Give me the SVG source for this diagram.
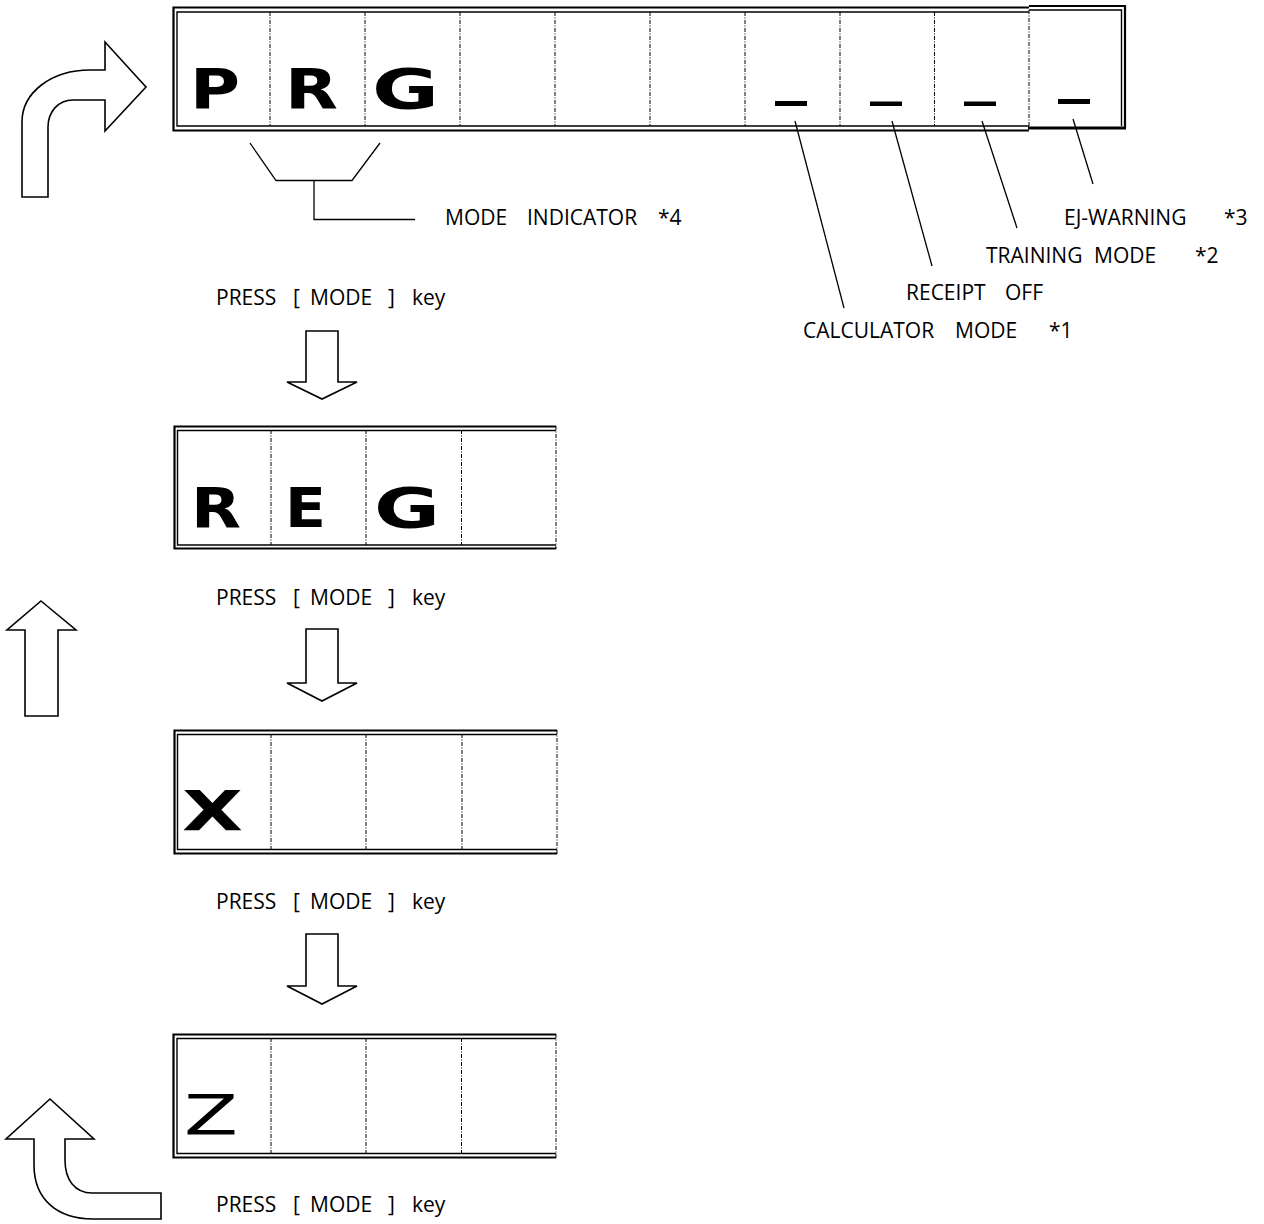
<svg xmlns="http://www.w3.org/2000/svg" width="1264" height="1224" viewBox="0 0 1264 1224">
<style>
.o{fill:none;stroke:#000;stroke-width:2.2}
.i{fill:none;stroke:#000;stroke-width:1.4}
.dv{stroke:#000;stroke-width:1;stroke-dasharray:4 1.5 1 1.5}
.ln{fill:none;stroke:#000;stroke-width:1.3}
.ar{fill:#fff;stroke:#000;stroke-width:1.6;stroke-linejoin:miter}
.big{font-family:"DejaVu Sans",sans-serif;font-weight:bold;font-size:56px}
.bign{font-family:"DejaVu Sans",sans-serif;font-weight:normal;font-size:56px}
.lb{font-family:"Open Sans","Noto Sans",sans-serif;font-size:21px;fill:#000}
.bar{fill:#000}
</style>
<rect width="1264" height="1224" fill="#fff"/>

<g id="display-prg">
<path class="o" d="M1029,7.5 H173.5 V130.5 H1029"/>
<path class="i" d="M1029,12 H177 V126 H1029"/>
<path class="o" d="M1029,6 H1125 V128"/>
<path class="i" d="M1029,10 H1121.5 V126"/>
<line x1="1028" y1="128" x2="1126" y2="128" stroke="#000" stroke-width="3"/>
<line class="dv" x1="270" y1="12" x2="270" y2="126"/>
<line class="dv" x1="365" y1="12" x2="365" y2="126"/>
<line class="dv" x1="460" y1="12" x2="460" y2="126"/>
<line class="dv" x1="555" y1="12" x2="555" y2="126"/>
<line class="dv" x1="650" y1="12" x2="650" y2="126"/>
<line class="dv" x1="745" y1="12" x2="745" y2="126"/>
<line class="dv" x1="840" y1="12" x2="840" y2="126"/>
<line class="dv" x1="934.5" y1="12" x2="934.5" y2="126"/>
<line class="dv" x1="1029" y1="10" x2="1029" y2="126"/>
<text class="big" x="190" y="108" textLength="50" lengthAdjust="spacingAndGlyphs">P</text>
<text class="big" x="285" y="108" textLength="53" lengthAdjust="spacingAndGlyphs">R</text>
<text class="big" x="372" y="108" textLength="67" lengthAdjust="spacingAndGlyphs">G</text>
<rect class="bar" x="775" y="101" width="32" height="5"/>
<rect class="bar" x="870" y="101.5" width="32" height="4.5"/>
<rect class="bar" x="964" y="101.5" width="32" height="4.5"/>
<rect class="bar" x="1058" y="99" width="32" height="5"/>
</g>

<g id="display-reg">
<path class="o" d="M556,426.5 H174.5 V548.5 H556"/>
<path class="i" d="M556,430.5 H177.5 V545 H556"/>
<line class="dv" x1="271" y1="430" x2="271" y2="545"/>
<line class="dv" x1="366" y1="430" x2="366" y2="545"/>
<line class="dv" x1="461.5" y1="430" x2="461.5" y2="545"/>
<line class="dv" x1="556" y1="426" x2="556" y2="549"/>
<text class="big" x="191" y="527" textLength="50" lengthAdjust="spacingAndGlyphs">R</text>
<text class="big" x="285" y="527" textLength="41" lengthAdjust="spacingAndGlyphs">E</text>
<text class="big" x="374" y="527" textLength="66" lengthAdjust="spacingAndGlyphs">G</text>
</g>

<g id="display-x">
<path class="o" d="M557,730.5 H174.5 V853.5 H557"/>
<path class="i" d="M557,734.5 H177.5 V849.5 H557"/>
<line class="dv" x1="271" y1="734" x2="271" y2="850"/>
<line class="dv" x1="366" y1="734" x2="366" y2="850"/>
<line class="dv" x1="462" y1="734" x2="462" y2="850"/>
<line class="dv" x1="557" y1="730" x2="557" y2="854"/>
<text class="big" x="182" y="830" textLength="61" lengthAdjust="spacingAndGlyphs">X</text>
</g>

<g id="display-z">
<path class="o" d="M556,1034.5 H173.5 V1157.5 H556"/>
<path class="i" d="M556,1038.5 H177 V1153.5 H556"/>
<line class="dv" x1="271" y1="1038" x2="271" y2="1154"/>
<line class="dv" x1="366" y1="1038" x2="366" y2="1154"/>
<line class="dv" x1="461.5" y1="1038" x2="461.5" y2="1154"/>
<line class="dv" x1="556" y1="1034" x2="556" y2="1158"/>
<text class="bign" x="184" y="1134" textLength="54" lengthAdjust="spacingAndGlyphs">Z</text>
</g>

<g id="arrows">
<path class="ar" d="M22,197 V122 C22,92 52,70 90,70 H105 V42 L146,87 L105,131 V100 H73 C58,100 48,112 48,127 V197 Z"/>
<path class="ar" d="M41,601 L76,630 H58 V716 H25 V630 H7 Z"/>
<path class="ar" d="M50,1099 L94,1139 H65 V1160 C65,1180 75,1193 92,1193 H161 V1219 H93 C58,1219 34,1200 34,1165 V1139 H6 Z"/>
<path class="ar" d="M306,331 H338 V382 H357 L322,399 L287,382 H306 Z"/>
<path class="ar" d="M306,629 H338 V683 H357 L322,701 L287,683 H306 Z"/>
<path class="ar" d="M306,934 H338 V986 H357 L322,1004 L287,986 H306 Z"/>
</g>

<g id="connectors">
<path class="ln" d="M250,143 L276,180.5 H352 L380,143"/>
<path class="ln" d="M314,180.5 V219.5 H415"/>
<line class="ln" x1="795" y1="121" x2="844" y2="308"/>
<line class="ln" x1="892" y1="121" x2="932" y2="266"/>
<line class="ln" x1="982" y1="121" x2="1017" y2="228"/>
<line class="ln" x1="1073" y1="119" x2="1093" y2="184"/>
</g>

<g id="labels">
<text class="lb" y="225"><tspan x="445">MODE </tspan><tspan x="527">INDICATOR </tspan><tspan x="658">*4</tspan></text>
<text class="lb" y="225"><tspan x="1064">EJ-WARNING </tspan><tspan x="1224">*3</tspan></text>
<text class="lb" y="263"><tspan x="986">TRAINING </tspan><tspan x="1094">MODE </tspan><tspan x="1195">*2</tspan></text>
<text class="lb" y="300"><tspan x="906">RECEIPT </tspan><tspan x="1005">OFF</tspan></text>
<text class="lb" y="338"><tspan x="803">CALCULATOR </tspan><tspan x="955">MODE </tspan><tspan x="1049">*1</tspan></text>
<text class="lb" y="305"><tspan x="216">PRESS </tspan><tspan x="293">[ </tspan><tspan x="310">MODE </tspan><tspan x="388">] </tspan><tspan x="412">key</tspan></text>
<text class="lb" y="605"><tspan x="216">PRESS </tspan><tspan x="293">[ </tspan><tspan x="310">MODE </tspan><tspan x="388">] </tspan><tspan x="412">key</tspan></text>
<text class="lb" y="909"><tspan x="216">PRESS </tspan><tspan x="293">[ </tspan><tspan x="310">MODE </tspan><tspan x="388">] </tspan><tspan x="412">key</tspan></text>
<text class="lb" y="1212"><tspan x="216">PRESS </tspan><tspan x="293">[ </tspan><tspan x="310">MODE </tspan><tspan x="388">] </tspan><tspan x="412">key</tspan></text>
</g>
</svg>
